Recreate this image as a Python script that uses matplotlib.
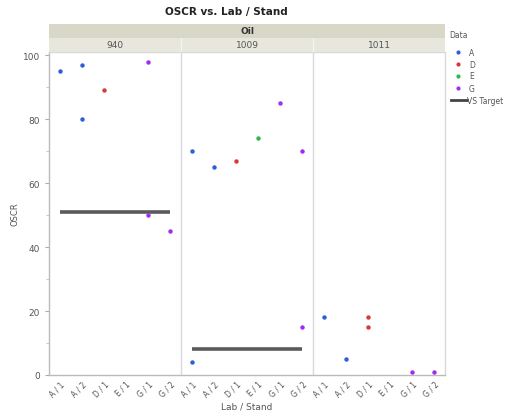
"""OSCR vs. Lab / Stand - variability chart recreation."""
import matplotlib
matplotlib.use("Agg")
import matplotlib.pyplot as plt
from matplotlib.lines import Line2D

# ── data ──────────────────────────────────────────────────────────────
LABS   = ["940", "1009", "1011"]
STANDS = ["A / 1", "A / 2", "D / 1", "E / 1", "G / 1", "G / 2"]

A_LAB   = ["940", "940", "940", "1009", "1009", "1009", "1011", "1011"]
A_STAND = ["A / 1", "A / 2", "A / 2", "A / 1", "A / 1", "A / 2", "A / 1", "A / 2"]
A_OSCR  = [95, 97, 80, 70, 4, 65, 18, 5]

D_LAB   = ["940", "1009", "1011", "1011"]
D_STAND = ["D / 1", "D / 1", "D / 1", "D / 1"]
D_OSCR  = [89, 67, 18, 15]

E_LAB   = ["1009"]
E_STAND = ["E / 1"]
E_OSCR  = [74]

G_LAB   = ["940", "940", "940", "1009", "1009", "1009", "1011", "1011"]
G_STAND = ["G / 1", "G / 1", "G / 2", "G / 1", "G / 2", "G / 2", "G / 1", "G / 2"]
G_OSCR  = [98, 50, 45, 85, 70, 15, 1, 1]

TARGET_LAB = ["940", "1009"]
TARGET     = [51, 8]

LEGEND_KEYS = ["A", "D", "E", "G"]
COLORS = {"A": "#2f5fd8", "D": "#d83a3a", "E": "#2eb84a", "G": "#a32cf0"}
GRID_C = "#d9d9d9"
TXT_C  = "#555555"

# ── layout (pixels -> figure fraction) ───────────────────────────────
W, H = 509, 414
fig = plt.figure(figsize=(W / 100, H / 100), dpi=100)
L, R = 49, 445
TOP, BOT = 53, 376


def frac(x0, y0, x1, y1):
    return [x0 / W, 1 - y1 / H, (x1 - x0) / W, (y1 - y0) / H]


def fx(px):
    return px / W


def fy(py):
    return 1 - py / H


ax = fig.add_axes(frac(L, TOP, R, BOT))
n = len(STANDS)


def xpos(lab, stand):
    return LABS.index(lab) * n + STANDS.index(stand)


for key, labs, stands, vals in [("A", A_LAB, A_STAND, A_OSCR),
                                ("D", D_LAB, D_STAND, D_OSCR),
                                ("E", E_LAB, E_STAND, E_OSCR),
                                ("G", G_LAB, G_STAND, G_OSCR)]:
    xs = [xpos(l, s) for l, s in zip(labs, stands)]
    ax.plot(xs, vals, "o", ms=3.2, color=COLORS[key], mec="none", zorder=4)

for lab, t in zip(TARGET_LAB, TARGET):
    i = LABS.index(lab) * n
    ax.plot([i, i + n - 1], [t, t], color="#5a5a5a", lw=2.6,
            solid_capstyle="butt", zorder=3)

for k in range(1, len(LABS)):
    ax.axvline(k * n - 0.5, color=GRID_C, lw=1.0, zorder=1)

ax.set_xlim(-0.5, len(LABS) * n - 0.5)
ax.set_ylim(0, 101)
ax.set_yticks([0, 20, 40, 60, 80, 100])
ax.set_yticks([10, 30, 50, 70, 90], minor=True)
ax.set_xticks(range(len(LABS) * n))
ax.set_xticklabels(STANDS * len(LABS), rotation=45, ha="right",
                   rotation_mode="anchor", fontsize=5.5, color=TXT_C)
ax.tick_params(axis="y", labelsize=6.5, labelcolor=TXT_C, color="#aaaaaa",
               length=3, width=0.8)
ax.tick_params(axis="y", which="minor", length=2, color="#bbbbbb")
ax.tick_params(axis="x", length=0, pad=3)
for sp in ax.spines.values():
    sp.set_color(GRID_C)
    sp.set_linewidth(1.0)
ax.spines["left"].set_color("#bbbbbb")
ax.spines["bottom"].set_color("#bbbbbb")

ax.set_xlabel("Lab / Stand", fontsize=6.5, color=TXT_C, labelpad=2)
fig.text(fx(15), fy(214), "OSCR", rotation=90, ha="center", va="center",
         fontsize=6, color=TXT_C)

# ── header bands ─────────────────────────────────────────────────────
h1 = fig.add_axes(frac(L, 25, R, 39))
h1.set_facecolor("#d8d7c8")
h1.set_xticks([]); h1.set_yticks([])
for sp in h1.spines.values():
    sp.set_visible(False)
h1.text(0.5, 0.5, "Oil", ha="center", va="center", fontsize=6.5,
        fontweight="bold", color="#333333", transform=h1.transAxes)

h2 = fig.add_axes(frac(L, 39, R, TOP))
h2.set_facecolor("#e8e7de")
h2.set_xlim(0, len(LABS)); h2.set_ylim(0, 1)
h2.set_xticks([]); h2.set_yticks([])
for sp in h2.spines.values():
    sp.set_visible(False)
for k, lab in enumerate(LABS):
    h2.text(k + 0.5, 0.5, lab, ha="center", va="center", fontsize=6.5,
            color=TXT_C)
    if k:
        h2.axvline(k, color="#f4f4ef", lw=1.0)

fig.text(fx(226), fy(12), "OSCR vs. Lab / Stand", ha="center",
         va="center", fontsize=7.5, fontweight="bold", color="#222222")

# ── legend (drawn by hand to match JMP spacing) ──────────────────────
fig.text(fx(449), fy(36), "Data", ha="left", va="center", fontsize=5.5,
         color=TXT_C)
row_y = [53, 65, 77, 89]
for key, py in zip(LEGEND_KEYS, row_y):
    fig.add_artist(Line2D([fx(458)], [fy(py)], ls="none", marker="o", ms=3,
                          mec="none", color=COLORS[key],
                          transform=fig.transFigure))
    fig.text(fx(469), fy(py), key, ha="left", va="center", fontsize=5.5,
             color=TXT_C)
fig.add_artist(Line2D([fx(451), fx(467)], [fy(101), fy(101)], lw=2,
                      color="#444444", transform=fig.transFigure))
fig.text(fx(467), fy(101), "VS Target", ha="left", va="center",
         fontsize=5.5, color=TXT_C)

fig.savefig("out.png", dpi=100)
